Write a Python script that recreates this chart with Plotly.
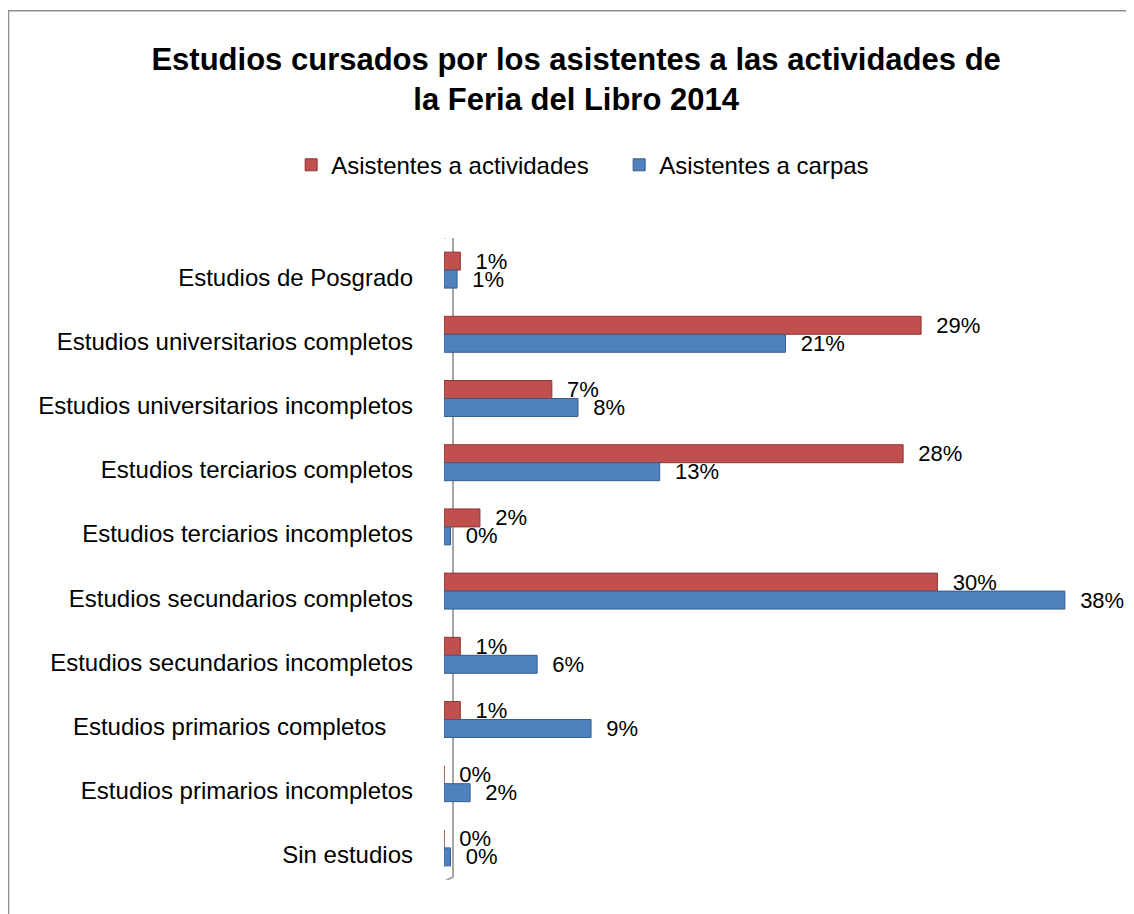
import plotly.graph_objects as go

categories = [
    "Estudios de Posgrado",
    "Estudios universitarios completos",
    "Estudios universitarios incompletos",
    "Estudios terciarios completos",
    "Estudios terciarios incompletos",
    "Estudios secundarios completos",
    "Estudios secundarios incompletos",
    "Estudios primarios completos\u00a0\u00a0\u00a0\u00a0",
    "Estudios primarios incompletos",
    "Sin estudios",
]
actividades = [1.0, 29.2, 6.6, 28.1, 2.2, 30.2, 1.0, 1.0, 0.0, 0.0]
carpas = [0.8, 20.9, 8.2, 13.2, 0.4, 38.0, 5.7, 9.0, 1.6, 0.4]

RED = "#C0504D"
BLUE = "#4F81BD"
FONT = "Liberation Sans"
LABEL_TEMPLATE = "\u00a0\u00a0%{x:.0f}%"

fig = go.Figure()
fig.add_trace(go.Bar(
    y=categories, x=actividades, orientation="h", name="Asistentes a actividades",
    marker=dict(color=RED, line=dict(color="#8C3836", width=1)),
    texttemplate=LABEL_TEMPLATE, textposition="outside", cliponaxis=False,
    constraintext="none",
    textfont=dict(size=22, color="black", family=FONT),
))
fig.add_trace(go.Bar(
    y=categories, x=carpas, orientation="h", name="Asistentes a carpas",
    marker=dict(color=BLUE, line=dict(color="#385D8A", width=1)),
    texttemplate=LABEL_TEMPLATE, textposition="outside", cliponaxis=False,
    constraintext="none",
    textfont=dict(size=22, color="black", family=FONT),
))

fig.update_layout(
    width=1134, height=914,
    paper_bgcolor="white", plot_bgcolor="white",
    barmode="group", bargap=0.44, bargroupgap=0.0,
    margin=dict(l=436, r=32, t=230, b=42, autoexpand=False),
    font=dict(family=FONT, size=24, color="black"),
    title=dict(
        text="Estudios cursados por los asistentes a las actividades de<br>la Feria del Libro 2014",
        x=0.501, xref="container", xanchor="center",
        y=0.932, yref="container", yanchor="middle",
        font=dict(family=FONT, size=31, color="black", weight="bold"),
    ),
    legend=dict(
        orientation="h", x=0.2497, xref="container", xanchor="left",
        y=0.828, yref="container", yanchor="middle",
        font=dict(size=24, family=FONT), traceorder="normal",
        itemwidth=30, entrywidth=283,
    ),
    showlegend=True,
    xaxis=dict(range=[0, 40.76], visible=False, showgrid=False, zeroline=False, automargin=False),
    yaxis=dict(
        type="category", range=[9.5, -0.5], showgrid=False, zeroline=False,
        showline=False, ticks="", ticklabelstandoff=30, ticklabelshift=-7,
        automargin=False,
        tickfont=dict(size=24, family=FONT, color="black"),
    ),
    shapes=[
        dict(type="path", xref="x", yref="y", layer="below",
             path="M -0.37 9.58 L -0.37 -0.44 L 0.55 -0.59 L 0.55 9.45 Z",
             line=dict(color="#A6A6A6", width=2), fillcolor="white"),
        dict(type="rect", xref="paper", yref="paper", layer="below",
             x0=-0.6539, x1=1.3, y0=-0.2, y1=1.354,
             line=dict(color="#8E8E8E", width=1.5), fillcolor="rgba(0,0,0,0)"),
    ],
)

fig.write_html("out.html")
